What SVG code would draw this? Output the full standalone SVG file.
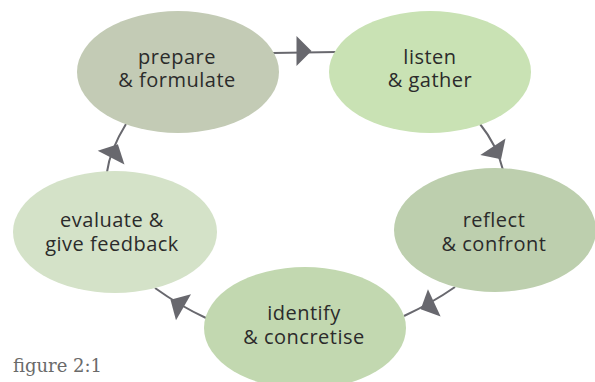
<svg xmlns="http://www.w3.org/2000/svg" xmlns:xlink="http://www.w3.org/1999/xlink" width="595" height="382" viewBox="0 0 595 382">
<style>
.lbl{font-family:"Open Sans","DejaVu Sans",sans-serif;font-size:20px;fill:#2b2b2b;text-anchor:middle;letter-spacing:0.5px}
.con{fill:none;stroke:#68686e;stroke-width:2}
.arr{fill:#68686e}
.cap{font-family:"DejaVu Serif","Liberation Serif",serif;font-size:18px;fill:#6a6a6a}
</style>
<defs>
<path id="arrow" d="M-7.5,-15 L7.5,0 L-7.5,15 Z"/>
</defs>
<rect width="595" height="382" fill="#ffffff"/>
<g id="connectors">
<path class="con" d="M273,53 L336,52"/>
<use class="arr" xlink:href="#arrow" href="#arrow" transform="translate(304,51) rotate(0)"/>
<path class="con" d="M480,124 Q497,145 503,170"/>
<use class="arr" xlink:href="#arrow" href="#arrow" transform="translate(497,153) rotate(57)"/>
<path class="con" d="M455,287 Q432,303 404,316"/>
<use class="arr" xlink:href="#arrow" href="#arrow" transform="translate(427.5,306) rotate(155)"/>
<path class="con" d="M206,318 Q180,306 155,288"/>
<use class="arr" xlink:href="#arrow" href="#arrow" transform="translate(177,303.5) rotate(210)"/>
<path class="con" d="M107,172 Q110,150 126,124"/>
<use class="arr" xlink:href="#arrow" href="#arrow" transform="translate(114.5,151) rotate(-63)"/>
</g>
<g id="prepare">
<ellipse cx="178" cy="72" rx="101" ry="61" fill="#c3cbb5"/>
<text class="lbl" x="177" y="64">prepare</text>
<text class="lbl" x="177" y="87">&amp; formulate</text>
</g>
<g id="listen">
<ellipse cx="430" cy="72" rx="101" ry="61" fill="#c9e2b4"/>
<text class="lbl" x="430" y="64">listen</text>
<text class="lbl" x="430" y="87">&amp; gather</text>
</g>
<g id="reflect">
<ellipse cx="495" cy="230" rx="101" ry="62" fill="#bdcfae"/>
<text class="lbl" x="494" y="227">reflect</text>
<text class="lbl" x="494" y="251">&amp; confront</text>
</g>
<g id="identify">
<ellipse cx="305" cy="328" rx="101" ry="61" fill="#c2d8b0"/>
<text class="lbl" x="304" y="320">identify</text>
<text class="lbl" x="304" y="344">&amp; concretise</text>
</g>
<g id="evaluate">
<ellipse cx="115" cy="232" rx="102" ry="61" fill="#d4e2c8"/>
<text class="lbl" x="112" y="227">evaluate &amp;</text>
<text class="lbl" x="112" y="251">give feedback</text>
</g>
<text class="cap" x="13" y="372">figure 2:1</text>
</svg>
